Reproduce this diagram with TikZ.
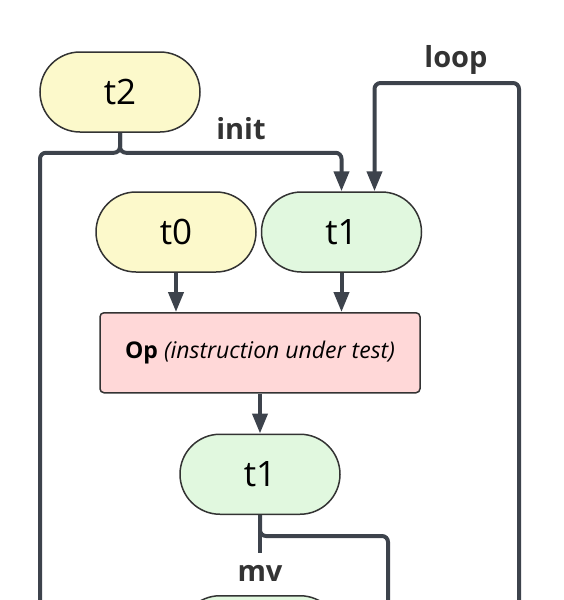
\documentclass[tikz,border=0pt]{standalone}
\usepackage{fontspec}
\setmainfont{Open Sans}
\usepackage{xcolor}
\usepackage{tikz}
\usetikzlibrary{positioning,arrows.meta}

\definecolor{wirecol}{HTML}{3D434C}
\definecolor{yelfill}{HTML}{FCF9CB}
\definecolor{grnfill}{HTML}{E1F8DF}
\definecolor{redfill}{HTML}{FFD8D8}

\begin{document}
\begin{tikzpicture}[x=1pt, y=-1pt,
  reg/.style={draw=black!80, line width=1.5pt, rounded corners=40pt, minimum width=160pt, minimum height=80pt, inner sep=0pt, font=\fontsize{35}{38}\selectfont},
  tmpreg/.style={reg, fill=yelfill},
  livereg/.style={reg, fill=grnfill},
  opbox/.style={draw=black!80, line width=1.5pt, rounded corners=4pt, fill=redfill, minimum width=320pt, minimum height=80pt, font=\fontsize{23}{26}\selectfont},
  wire/.style={draw=wirecol, line width=4pt, rounded corners=6pt},
  arr/.style={wire, -{Triangle[length=20pt, width=15pt]}},
  lbl/.style={text=black!80, font=\fontsize{29}{32}\selectfont\bfseries, inner sep=0pt}
]
\useasboundingbox (0,0) rectangle (563,600);

\node[tmpreg] (t2) at (120,92) {t2};
\node[tmpreg] (t0) at (176,232) {t0};
\node[livereg, right=4pt of t0] (t1a) {t1};
\node[opbox, anchor=north] (op) at (260,312) {\textbf{Op} \textit{(instruction under test)}};
\node[livereg, below=40pt of op] (t1b) {t1};
\node[livereg, below=80pt of t1b] (t3) {};

\node[lbl] (initlbl) at (241,129) {init};
\node[lbl] (looplbl) at (456,60) {loop};
\node[lbl, minimum height=40pt] (mvlbl) at (260,573) {mv};

\coordinate (leftout) at (40,640);
\coordinate (looptop) at (519,83);
\coordinate (loopin) at (519,640);
\coordinate (mvout) at (388,640);

% t2 feeds both sides
\draw[wire] (t2.south) -- ++(0,20) -| (leftout);
\draw[arr] (t2.south) -- ++(0,20) -| (t1a.north);
\draw[arr] (loopin) -- (looptop) -| ([xshift=33pt]t1a.north);

\draw[arr] (t0.south) -- (t0.south |- op.north);
\draw[arr] (t1a.south) -- (t1a.south |- op.north);
\draw[arr] (op.south) -- (t1b.north);

\draw[wire] (t1b.south) -- (mvlbl.north);
\draw[wire] (t1b.south) -- ++(0,21) -| (mvout);

\end{tikzpicture}
\end{document}
